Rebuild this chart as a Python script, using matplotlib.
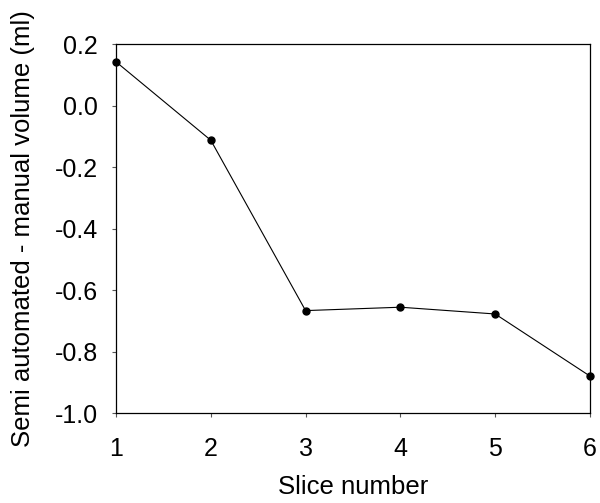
import matplotlib.pyplot as plt

# Data
slices = [1, 2, 3, 4, 5, 6]
vol_diff = [0.143, -0.112, -0.666, -0.655, -0.677, -0.879]
yticks = [-1.0, -0.8, -0.6, -0.4, -0.2, 0.0, 0.2]

plt.rcParams['font.family'] = ['Liberation Sans', 'DejaVu Sans']

fig = plt.figure(figsize=(6, 5.03), dpi=100)
ax = fig.add_axes([0.1933, 0.1783, 0.79, 0.7337])

ax.plot(slices, vol_diff, color='black', linewidth=0.8, marker='o',
        markersize=5, clip_on=False, zorder=3)

ax.set_xlim(1, 6)
ax.set_ylim(-1.0, 0.2)
ax.set_xticks(slices)
ax.set_yticks(yticks)
ax.set_yticklabels([f"{v:.1f}" for v in yticks])
ax.tick_params(direction='out', length=3.2, width=0.8, labelsize=18, color='#555555')
ax.tick_params(axis='y', pad=10)
ax.tick_params(axis='x', pad=14)
for s in ax.spines.values():
    s.set_linewidth(0.9)

ax.set_xlabel("Slice number", fontsize=18.5, labelpad=10)
ax.set_ylabel("Semi automated - manual volume (ml)", fontsize=18.5, labelpad=14)

fig.savefig("out.png", dpi=100)
